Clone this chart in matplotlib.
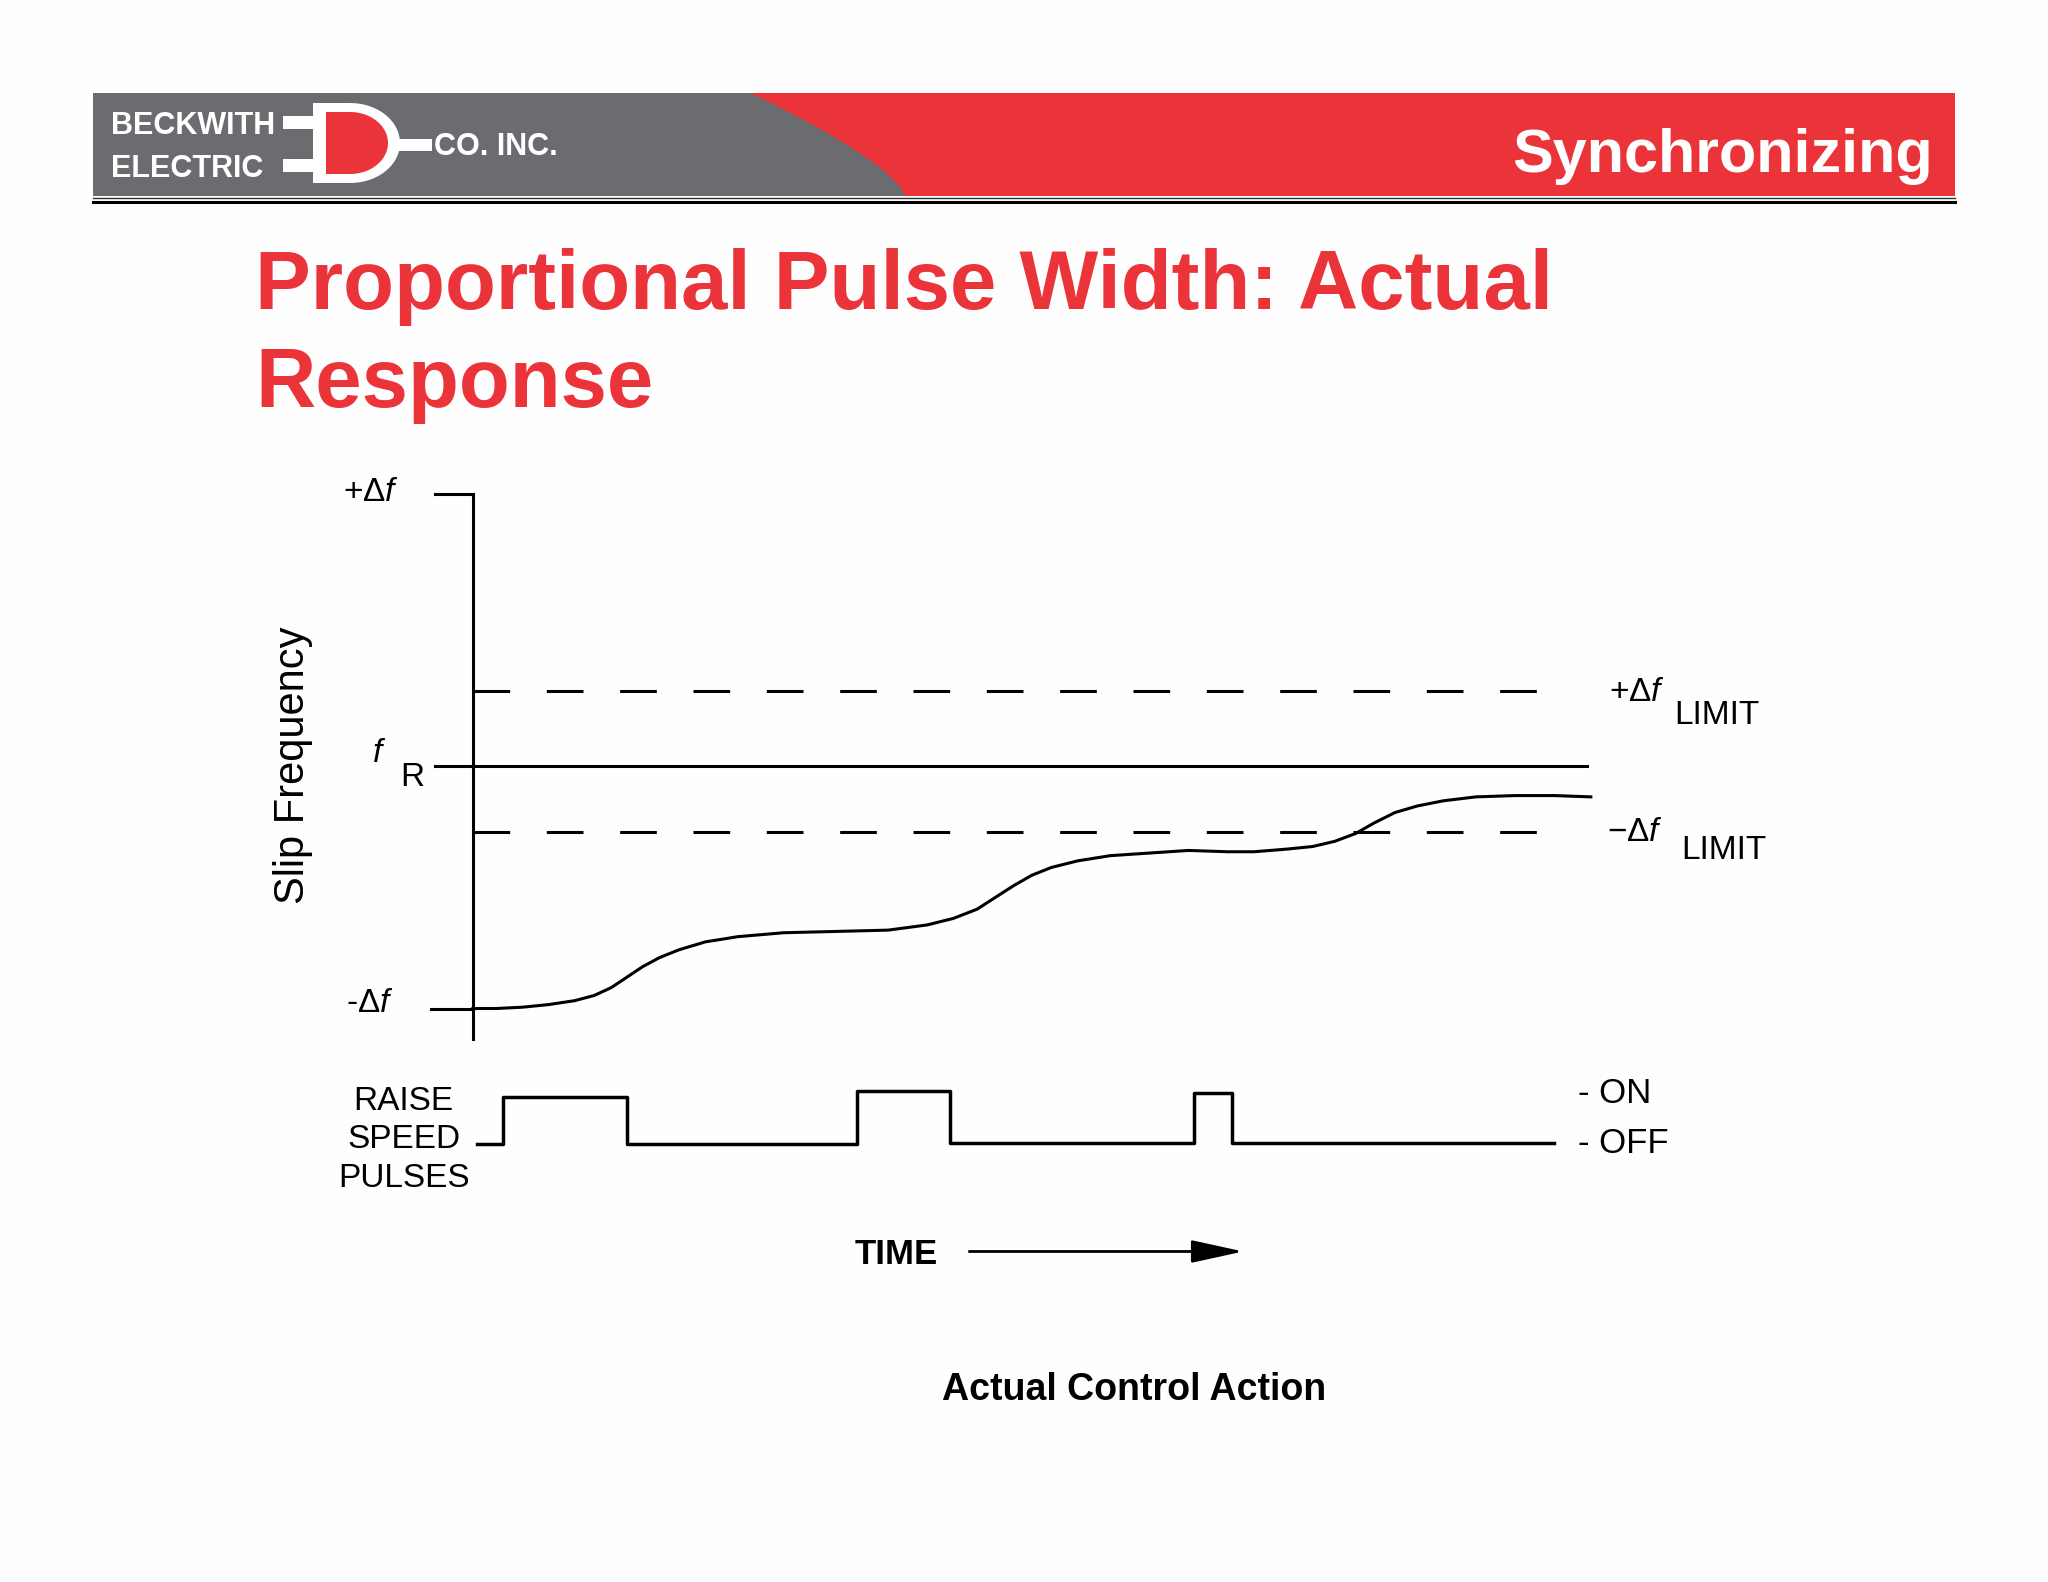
import numpy as np
import matplotlib
matplotlib.use('Agg')
from matplotlib import pyplot as plt
from matplotlib.patches import Polygon, Rectangle, FancyArrowPatch

plt.rcParams['font.family'] = ['Liberation Sans', 'DejaVu Sans']
plt.rcParams['mathtext.fontset'] = 'custom'
plt.rcParams['mathtext.rm'] = 'Liberation Sans'
plt.rcParams['mathtext.it'] = 'Liberation Sans:italic'

RED = '#EA3439'
GRAY = '#6B6C70'

# ---- diagram data (time units, frequency units; fR = 0) ----
t_curve = [0.00, 0.18, 0.38, 0.58, 0.78, 0.93, 1.06, 1.18, 1.30, 1.43, 1.58,
           1.78, 2.03, 2.38, 2.78, 3.18, 3.48, 3.68, 3.86, 4.00, 4.14, 4.28,
           4.43, 4.63, 4.88, 5.18, 5.48, 5.78, 5.98, 6.23, 6.43, 6.60, 6.76,
           6.90, 7.06, 7.23, 7.43, 7.68, 7.98, 8.28, 8.56]
f_curve = [-1.86, -1.86, -1.85, -1.83, -1.80, -1.76, -1.70, -1.62, -1.54, -1.47, -1.41,
           -1.35, -1.31, -1.28, -1.27, -1.26, -1.22, -1.17, -1.10, -1.01, -0.92, -0.84,
           -0.78, -0.73, -0.69, -0.67, -0.65, -0.66, -0.66, -0.64, -0.62, -0.58, -0.52,
           -0.44, -0.36, -0.31, -0.27, -0.24, -0.23, -0.23, -0.24]

f_top, f_bottom = 2.08, -1.86          # +df / -df marks
f_ref = 0.0                            # fR
f_limit_hi, f_limit_lo = 0.57, -0.51   # +/- df LIMIT
t_end_ref, t_end_limit = 8.53, 8.28

# raise-speed pulses (step levels)
t_pulse = [0.03, 0.23, 0.23, 1.18, 1.18, 2.94, 2.94, 3.65, 3.65, 5.52, 5.52, 5.81, 5.81, 8.28]
p_pulse = [-2.90, -2.90, -2.54, -2.54, -2.90, -2.90, -2.49, -2.49, -2.89, -2.89, -2.51, -2.51, -2.89, -2.89]

fig = plt.figure(figsize=(20.48, 15.82), dpi=100)
fig.patch.set_facecolor('#FEFEFE')

# ---- page decoration (pixel coordinates) ----
bg = fig.add_axes([0, 0, 1, 1])
bg.set_xlim(0, 2048)
bg.set_ylim(1582, 0)
bg.axis('off')

bg.add_patch(Rectangle((93, 93), 1862, 103, color=GRAY, lw=0))
tt = np.linspace(0, 1, 40)
bx = 750 + 155 * (1 - (1 - tt) ** 1.4)
by = 93 + 103 * tt
red_pts = [(1955, 93)] + list(zip(bx, by)) + [(1955, 196)]
bg.add_patch(Polygon(red_pts, closed=True, color=RED, lw=0))
bg.plot([93, 1955], [197.5, 197.5], color='#333333', lw=1)
bg.plot([93, 1955], [201.5, 201.5], color='black', lw=2.2)

# logo
bg.text(111, 134, 'BECKWITH', color='white', fontsize=22, fontweight='bold', va='baseline')
bg.text(111, 177, 'ELECTRIC', color='white', fontsize=22, fontweight='bold', va='baseline')
bg.text(434, 155, 'CO. INC.', color='white', fontsize=22, fontweight='bold', va='baseline')
bg.add_patch(Rectangle((283, 116), 34, 13, color='white', lw=0))
bg.add_patch(Rectangle((283, 159), 34, 13, color='white', lw=0))
bg.add_patch(Rectangle((392, 139), 40, 12, color='white', lw=0))
ang = np.linspace(np.pi / 2, -np.pi / 2, 40)
outer = [(313, 103)] + list(zip(350 + 50 * np.cos(ang), 143 - 40 * np.sin(ang))) + [(313, 183)]
inner = [(326, 112)] + list(zip(350 + 38 * np.cos(ang), 143 - 31 * np.sin(ang))) + [(326, 174)]
bg.add_patch(Polygon(outer, closed=True, color='white', lw=0))
bg.add_patch(Polygon(inner, closed=True, color=RED, lw=0))

bg.text(1933, 172, 'Synchronizing', color='white', fontsize=44, fontweight='bold',
        ha='right', va='baseline')
bg.text(255, 309, 'Proportional Pulse Width: Actual', color=RED, fontsize=60,
        fontweight='bold', va='baseline')
bg.text(255, 407, 'Response', color=RED, fontsize=60, fontweight='bold', va='baseline')

# ---- diagram ----
ax = fig.add_axes([250 / 1568, 1 - 1000 / 1211, 1150 / 1568, 660 / 1211])
ax.set_xlim(-1.12, 10.38)
ax.set_ylim(-4.14, 2.46)
ax.axis('off')

lw = 2.2
ax.plot([0, 0], [f_top, -2.09], color='black', lw=lw)
ax.plot([-0.29, 0], [f_top, f_top], color='black', lw=lw)
ax.plot([-0.32, 0], [f_bottom, f_bottom], color='black', lw=lw)
ax.plot([-0.29, t_end_ref], [f_ref, f_ref], color='black', lw=lw)
ax.plot([0, t_end_limit], [f_limit_hi, f_limit_hi], color='black', lw=lw, dashes=(12, 12))
ax.plot([0, t_end_limit], [f_limit_lo, f_limit_lo], color='black', lw=lw, dashes=(12, 12))
ax.plot(t_curve, f_curve, color='black', lw=lw, solid_joinstyle='round')
ax.plot(t_pulse, p_pulse, color='black', lw=lw + 0.3)

fs = 24
ax.text(-0.78, 2.09, r'$+\Delta f$', fontsize=fs, ha='center', va='center')
ax.text(-0.72, 0.09, r'$f$', fontsize=fs, ha='center', va='center')
ax.text(-0.46, -0.09, 'R', fontsize=fs, ha='center', va='center')
ax.text(-0.79, -1.82, r'$\text{-}\Delta f$', fontsize=fs, ha='center', va='center')
ax.text(-1.38, 0.0, 'Slip Frequency', fontsize=30, rotation=90, ha='center', va='center')

ax.text(8.70, 0.56, r'$+\Delta f$', fontsize=fs, ha='left', va='center')
ax.text(9.20, 0.38, 'LIMIT', fontsize=fs, ha='left', va='center')
ax.text(8.68, -0.51, r'$-\Delta f$', fontsize=fs, ha='left', va='center')
ax.text(9.25, -0.65, 'LIMIT', fontsize=fs, ha='left', va='center')

ax.text(-0.53, -2.57, 'RAISE', fontsize=fs, ha='center', va='center')
ax.text(-0.53, -2.86, 'SPEED', fontsize=fs, ha='center', va='center')
ax.text(-0.53, -3.16, 'PULSES', fontsize=fs, ha='center', va='center')
ax.text(8.46, -2.51, '- ON', fontsize=25, ha='left', va='center')
ax.text(8.46, -2.89, '- OFF', fontsize=25, ha='left', va='center')

ax.text(3.24, -3.74, 'TIME', fontsize=25, fontweight='bold', ha='center', va='center')
ax.add_patch(FancyArrowPatch((3.78, -3.72), (5.92, -3.72),
                             arrowstyle='-|>,head_length=32,head_width=7',
                             mutation_scale=1, color='black', lw=2))
ax.text(5.06, -4.78, 'Actual Control Action', fontsize=27, fontweight='bold',
        ha='center', va='center')

fig.savefig('out.png', dpi=100, facecolor=fig.get_facecolor())
